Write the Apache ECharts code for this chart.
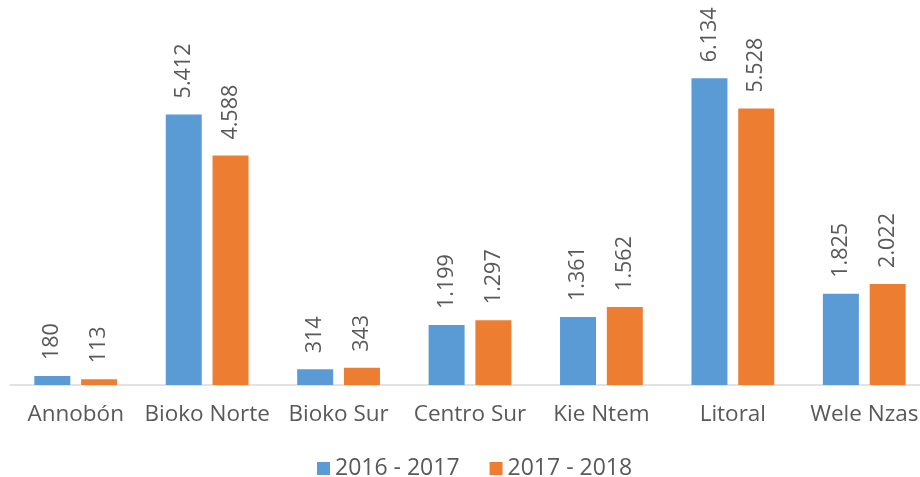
<!DOCTYPE html>
<html>
<head>
<meta charset="utf-8">
<script src="https://cdn.jsdelivr.net/npm/echarts@6/dist/echarts.min.js"></script>
<style>html,body{margin:0;padding:0;background:#fff}#c{width:920px;height:477px}</style>
</head>
<body>
<div id="c"></div>
<script>
const categories = ['Annobón', 'Bioko Norte', 'Bioko Sur', 'Centro Sur', 'Kie Ntem', 'Litoral', 'Wele Nzas'];
const seriesNames = ['2016 - 2017', '2017 - 2018'];
const values2016 = [180, 5412, 314, 1199, 1361, 6134, 1825];
const values2017 = [113, 4588, 343, 1297, 1562, 5528, 2022];

const FONT = '"Open Sans", "Noto Sans", sans-serif';
const TEXT = '#595959';
function fmt(v) { return String(v).replace(/\B(?=(\d{3})+(?!\d))/g, '.'); }
const labelCfg = {
  show: true, position: 'top', rotate: 90, align: 'left', verticalAlign: 'middle',
  distance: 16, color: TEXT, fontSize: 21.5, fontFamily: FONT,
  formatter: p => fmt(p.value)
};
const chart = echarts.init(document.getElementById('c'), null, {renderer: 'canvas'});
chart.setOption({
  animation: false,
  grid: {left: 10, top: 35, width: 920, height: 350, containLabel: false, outerBoundsMode: 'none'},
  legend: {
    data: seriesNames, left: 312, top: 452, itemWidth: 13, itemHeight: 13, itemGap: 30,
    icon: 'rect',
    textStyle: {color: TEXT, fontSize: 23, fontFamily: FONT}
  },
  xAxis: {
    type: 'category', data: categories,
    axisLine: {lineStyle: {color: '#d9d9d9', width: 1.5}},
    axisTick: {show: false},
    axisLabel: {color: TEXT, fontSize: 22.5, fontFamily: FONT, margin: 18, interval: 0}
  },
  yAxis: {type: 'value', min: 0, max: 7000, show: false, splitLine: {show: false}},
  series: [
    {name: seriesNames[0], type: 'bar', data: values2016, barWidth: 36, barGap: '30%',
     itemStyle: {color: '#5B9BD5'}, label: labelCfg},
    {name: seriesNames[1], type: 'bar', data: values2017, barWidth: 36, barGap: '30%',
     itemStyle: {color: '#ED7D31'}, label: labelCfg}
  ]
});
</script>
</body>
</html>
